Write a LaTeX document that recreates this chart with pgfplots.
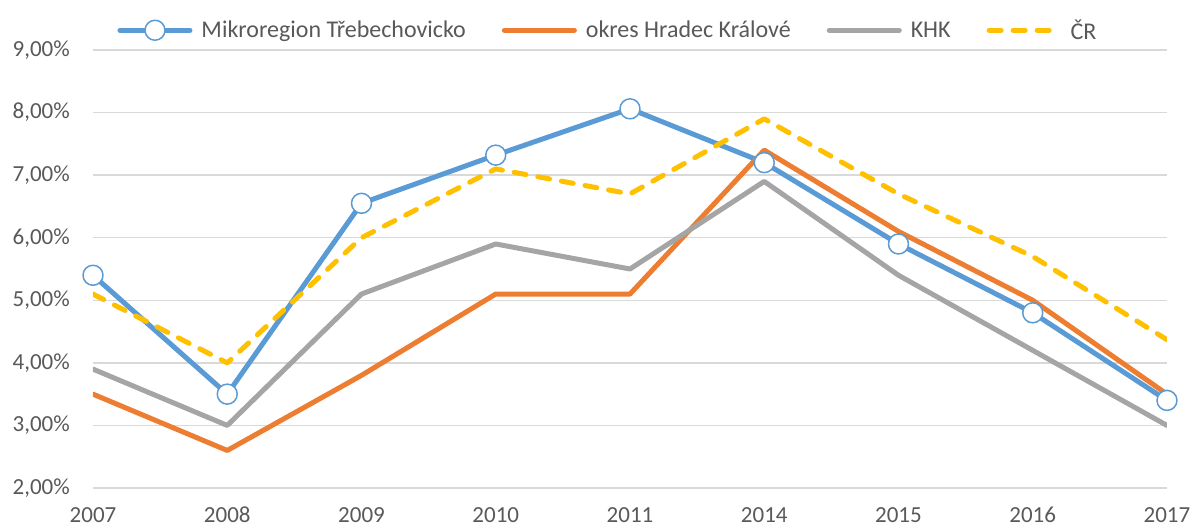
\documentclass[border=0pt]{standalone}
\usepackage{pgfplots}
\pgfplotsset{compat=1.18}
\usepackage{fontspec}
\setmainfont{Carlito}
\definecolor{cblue}{HTML}{5B9BD5}
\definecolor{corange}{HTML}{ED7D31}
\definecolor{cgray}{HTML}{A5A5A5}
\definecolor{cyellow}{HTML}{FFC000}
\definecolor{ctext}{HTML}{595959}
\definecolor{cgrid}{HTML}{D9D9D9}
\begin{document}
\begin{tikzpicture}
\path[use as bounding box] (-93pt,-40pt) rectangle (1100pt,488pt);
\begin{axis}[
  scale only axis,
  width=1074pt, height=438pt,
  xmin=0, xmax=8, ymin=2, ymax=9,
  xtick={0,1,2,3,4,5,6,7,8},
  xticklabels={2007,2008,2009,2010,2011,2014,2015,2016,2017},
  ytick={2,3,4,5,6,7,8,9},
  yticklabel={\pgfmathprintnumber[fixed,fixed zerofill,precision=2,use comma,assume math mode=true]{\tick}\%},
  /pgf/number format/assume math mode=true,
  ymajorgrids, major grid style={draw=cgrid, line width=1.3pt},
  axis line style={draw=none},
  major tick length=0pt,
  tick label style={font=\fontsize{23}{27}\selectfont, text=ctext, inner sep=0pt},
  yticklabel style={anchor=east, xshift=-23pt},
  xticklabel style={anchor=north, yshift=-19pt},
  legend style={draw=none, fill=none, at={(0.4795,1)}, anchor=south, yshift=7pt,
    font=\fontsize{24}{28}\selectfont, text=ctext, inner sep=0pt,
    /tikz/every odd column/.append style={column sep=7pt},
    /tikz/every even column/.append style={column sep=34pt}},
  legend columns=-1,
  legend cell align=left,
  legend image code/.code={\draw[mark repeat=2,mark phase=2] plot coordinates {(0pt,0pt) (35pt,0pt) (70pt,0pt)};},
]
\addplot[color=cblue, line width=5pt, line join=round, line cap=round,
  mark=*, mark size=10pt, mark options={fill=white, draw=cblue, line width=1.5pt}]
  coordinates {(0,5.4) (1,3.5) (2,6.55) (3,7.32) (4,8.06) (5,7.2) (6,5.9) (7,4.8) (8,3.4)};
\addlegendentry{Mikroregion Třebechovicko}
\addplot[color=corange, line width=5pt, line join=round, line cap=round, mark=none]
  coordinates {(0,3.5) (1,2.6) (2,3.8) (3,5.1) (4,5.1) (5,7.4) (6,6.1) (7,5.0) (8,3.5)};
\addlegendentry{okres Hradec Králové}
\addplot[color=cgray, line width=5pt, line join=round, line cap=round, mark=none]
  coordinates {(0,3.9) (1,3.0) (2,5.1) (3,5.9) (4,5.5) (5,6.9) (6,5.4) (7,4.2) (8,3.0)};
\addlegendentry{KHK}
\addplot[color=cyellow, line width=5pt, line join=round, line cap=round, mark=none, dash pattern=on 12pt off 12pt]
  coordinates {(0,5.1) (1,4.0) (2,6.0) (3,7.1) (4,6.7) (5,7.9) (6,6.7) (7,5.7) (8,4.37)};
\addlegendentry{ČR}
\end{axis}
\end{tikzpicture}
\end{document}
